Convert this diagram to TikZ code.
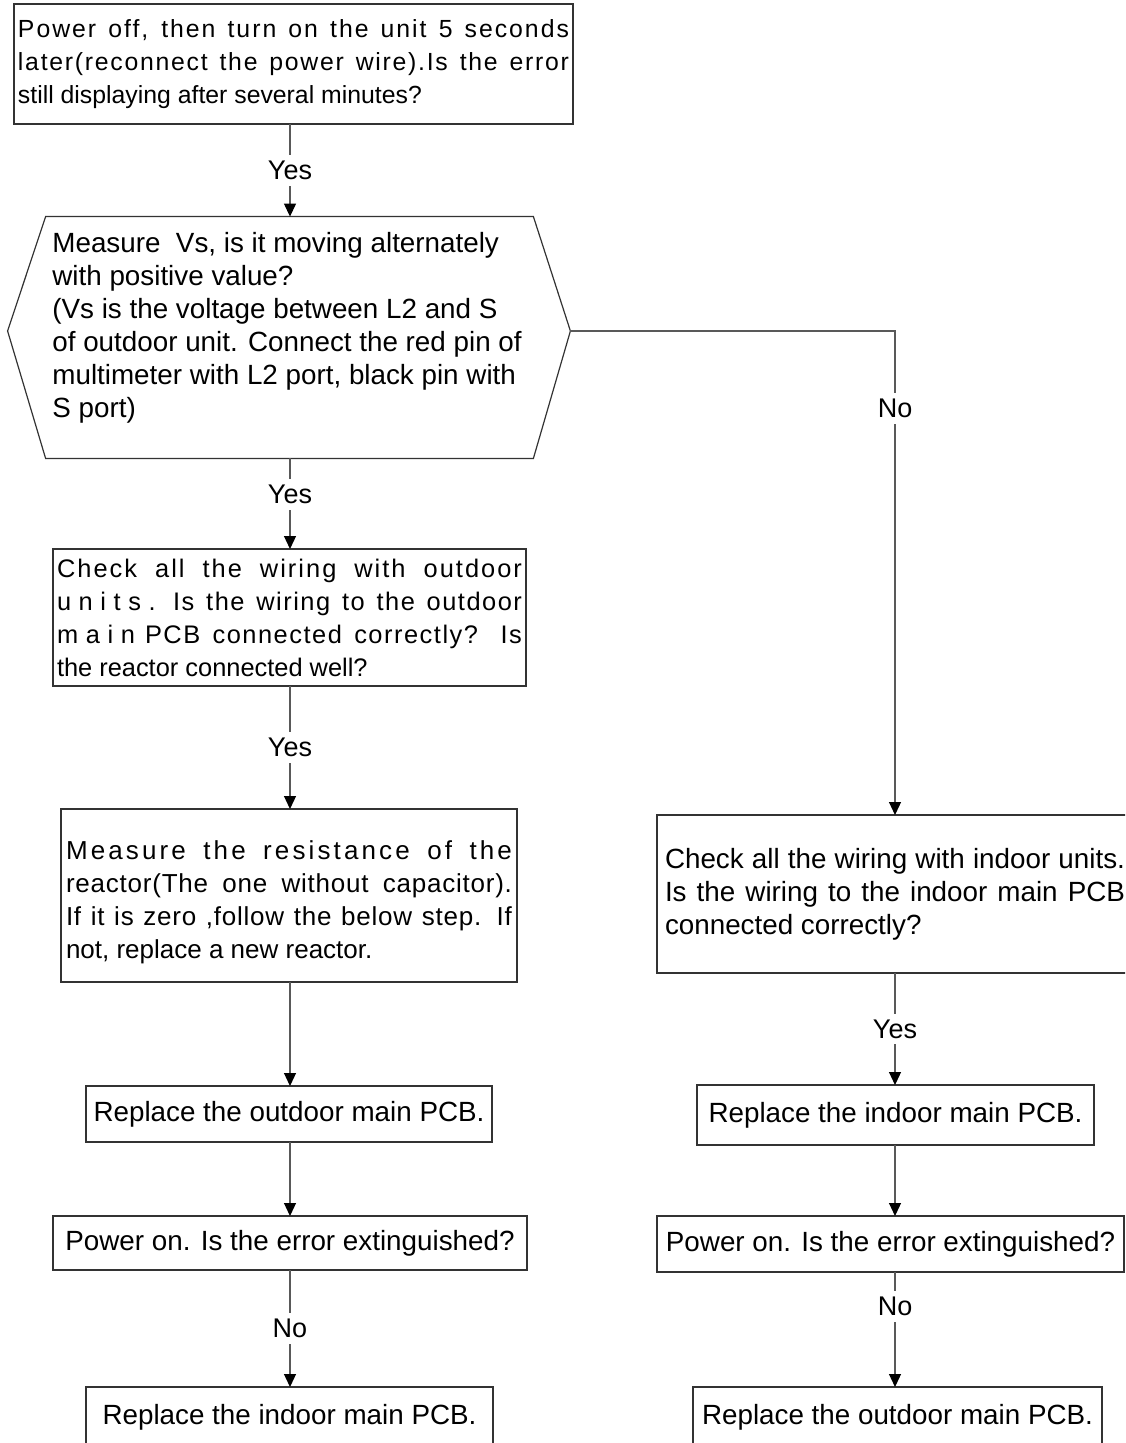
\documentclass[tikz,border=0pt]{standalone}
\usepackage{fontspec}
\setmainfont{Liberation Sans}
\usetikzlibrary{arrows.meta}
\definecolor{linec}{gray}{0.35}
\definecolor{bordc}{gray}{0.2}
\newcommand{\fz}[1]{\fontsize{#1}{16.5pt}\selectfont}
\newcommand{\jl}[1]{\makebox[\linewidth][s]{#1}\\}
\newcommand{\lsp}[2]{{\addfontfeature{LetterSpace=#1}#2}}
\begin{document}
\begin{tikzpicture}[x=0.5pt,y=-0.5pt,
  box/.style={draw=bordc, line width=0.6pt, inner sep=0pt, outer sep=0pt},
  arr/.style={draw=linec, line width=0.6pt, -{Triangle[width=6pt,length=6.5pt,color=black]}},
  lab/.style={fill=white, inner xsep=1pt, inner ysep=3pt, font=\fz{13.5}}]
\useasboundingbox (0,0) rectangle (1125,1443);
\clip (0,0) rectangle (1125,1443);
\fill[white] (0,0) rectangle (1125,1443);
\coordinate (cl) at (290,0);
\coordinate (cr) at (895,0);

% left column
\node[box, minimum width=279.5pt, minimum height=60pt] (n1) at (293.5,64)
 {\parbox{275.5pt}{\fz{12.4}\jl{\lsp{8}{Power off, then turn on the unit 5 seconds}}\jl{\lsp{7}{later(reconnect the power wire).Is the error}}still displaying after several minutes?}};

\node[minimum width=281pt, minimum height=120.5pt, inner sep=0pt] (hex) at (289,337.5) {};
\coordinate (hexL) at ([yshift=3.25pt]hex.west);
\coordinate (hexR) at ([yshift=3.25pt]hex.east);
\draw[box] (hexL) -- ([xshift=19pt]hex.north west) -- ([xshift=-18.5pt]hex.north east)
  -- (hexR) -- ([xshift=-18.5pt]hex.south east) -- ([xshift=19pt]hex.south west) -- cycle;
\node[anchor=base west, inner sep=0pt] (hext) at (52,253)
 {\parbox[t]{240pt}{\fz{13.9}\raggedright Measure~~Vs, is it moving alternately\\
 with positive value?\\
 (Vs is the voltage between L2 and S\\
 of outdoor unit. Connect the red pin of\\
 multimeter with L2 port, black pin with\\
 S port)}};

\node[box, minimum width=236.5pt, minimum height=68.5pt] (n3) at (289.5,617.5)
 {\parbox{232.5pt}{\fz{12.7}\jl{\lsp{8}{Check all the wiring with outdoor}}\jl{\lsp{30}{units.} \lsp{6}{Is the wiring to the outdoor}}\jl{\lsp{30}{main} \lsp{6}{PCB connected correctly? Is}}the reactor connected well?}};

\node[box, minimum width=228pt, minimum height=86.5pt] (n4) at (289,895.5) {};
\node[inner sep=0pt] (n4t) at (289,902)
 {\parbox{223pt}{\fz{13}\jl{\lsp{12}{Measure the resistance of the}}\jl{\lsp{3}{reactor(The one without capacitor).}}\jl{\lsp{3}{If it is zero ,follow the below step. If}}not, replace a new reactor.}};

\node[box, minimum width=203pt, minimum height=28pt, font=\fz{13.9}] (n5) at (289,1114) {Replace the outdoor main PCB.};
\node[box, minimum width=237pt, minimum height=27pt, font=\fz{13.9}] (n6) at (290,1243) {Power on. Is the error extinguished?};
\node[box, minimum width=203.5pt, minimum height=30pt, font=\fz{13.9}] (n7) at (289.5,1417) {Replace the indoor main PCB.};

% right column
\node[box, minimum width=238pt, minimum height=79pt] (r1) at (895,894)
 {\parbox{230pt}{\fz{13.9}\jl{Check all the wiring with indoor units.}\jl{Is the wiring to the indoor main PCB}connected correctly?}};
\node[box, minimum width=198.5pt, minimum height=30pt, font=\fz{13.9}] (r2) at (895.5,1115) {Replace the indoor main PCB.};
\node[box, minimum width=233.5pt, minimum height=28pt, font=\fz{13.9}] (r3) at (890.5,1244) {Power on. Is the error extinguished?};
\node[box, minimum width=204.5pt, minimum height=30pt, font=\fz{13.9}] (r4) at (897.5,1417) {Replace the outdoor main PCB.};

% connectors
\draw[arr] (n1.south -| cl) -- node[lab]{Yes} (hex.north -| cl);
\draw[arr] (hex.south -| cl) -- node[lab, pos=0.4]{Yes} (n3.north -| cl);
\draw[arr] (n3.south -| cl) -- node[lab]{Yes} (n4.north -| cl);
\draw[arr] (n4.south -| cl) -- (n5.north -| cl);
\draw[arr] (n5.south -| cl) -- (n6.north -| cl);
\draw[arr] (n6.south -| cl) -- node[lab]{No} (n7.north -| cl);
\draw[arr] (hexR) -- (hexR -| cr) -- node[lab, pos=0.16]{No} (r1.north -| cr);
\draw[arr] (r1.south -| cr) -- node[lab]{Yes} (r2.north -| cr);
\draw[arr] (r2.south -| cr) -- (r3.north -| cr);
\draw[arr] (r3.south -| cr) -- node[lab, pos=0.3]{No} (r4.north -| cr);
\end{tikzpicture}
\end{document}
